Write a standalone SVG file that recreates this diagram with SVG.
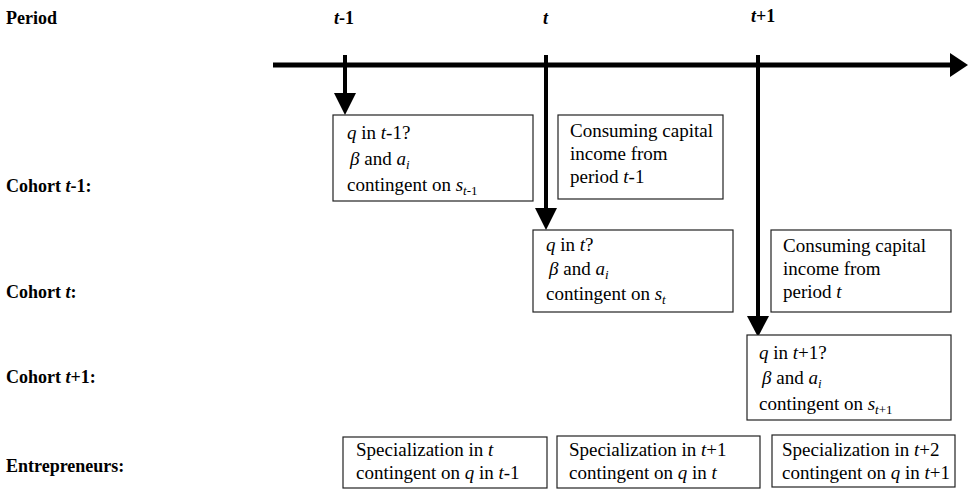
<svg xmlns="http://www.w3.org/2000/svg" width="968" height="497" viewBox="0 0 968 497">
<defs>
<style>
.lbl{font-size:18px;font-weight:bold;fill:#000}
.txt{font-size:19px;fill:#000}
.i{font-style:italic}
.sub{font-size:13px}
.box{fill:#fff;stroke:#222;stroke-width:1.2}
.line{stroke:#000;fill:none}
.head{fill:#000}
</style>
</defs>
<rect width="968" height="497" fill="#fff"/>
<g font-family="'Liberation Serif', 'Times New Roman', Times, 'Nimbus Roman', 'Nimbus Roman No9 L', FreeSerif, 'Noto Serif', 'DejaVu Serif', serif">
<g id="labels">
<text class="lbl" x="6" y="24">Period</text>
<text class="lbl" x="334" y="24"><tspan class="i">t</tspan>-1</text>
<text class="lbl" x="543" y="24"><tspan class="i">t</tspan></text>
<text class="lbl" x="751" y="22"><tspan class="i">t</tspan>+1</text>
<text class="lbl" x="6" y="192">Cohort <tspan class="i">t</tspan>-1:</text>
<text class="lbl" x="6" y="298">Cohort <tspan class="i">t</tspan>:</text>
<text class="lbl" x="6" y="383">Cohort <tspan class="i">t</tspan>+1:</text>
<text class="lbl" x="6" y="472">Entrepreneurs:</text>
</g>
<g id="connectors">
<line class="line" x1="273" y1="65" x2="952" y2="65" stroke-width="5"/>
<polygon class="head" points="950,53 968,65 950,77"/>
<line class="line" x1="345" y1="55" x2="345" y2="96" stroke-width="4"/>
<polygon class="head" points="334,93 356,93 345,115"/>
<line class="line" x1="546" y1="55" x2="546" y2="211" stroke-width="4"/>
<polygon class="head" points="535,208 557,208 546,230"/>
<line class="line" x1="758" y1="55" x2="758" y2="319" stroke-width="4"/>
<polygon class="head" points="747,316 769,316 758,337"/>
</g>
<g id="cohort-t-1-decision">
<rect class="box" x="333" y="115" width="200" height="86"/>
<text class="txt" x="347" y="139"><tspan class="i">q</tspan> in <tspan class="i">t</tspan>-1?</text>
<text class="txt" x="350" y="165"><tspan class="i">β</tspan>  and <tspan class="i">a</tspan><tspan class="sub i" dy="4">i</tspan></text>
<text class="txt" x="347" y="191">contingent on <tspan class="i">s</tspan><tspan class="sub" dy="4"><tspan class="i">t</tspan>-1</tspan></text>
</g>
<g id="cohort-t-1-consume">
<rect class="box" x="558" y="115" width="165" height="84"/>
<text class="txt" x="570" y="137">Consuming capital</text>
<text class="txt" x="570" y="160">income from</text>
<text class="txt" x="570" y="183">period <tspan class="i">t</tspan>-1</text>
</g>
<g id="cohort-t-decision">
<rect class="box" x="533" y="230" width="200" height="82"/>
<text class="txt" x="546" y="251"><tspan class="i">q</tspan> in <tspan class="i">t</tspan>?</text>
<text class="txt" x="549" y="275"><tspan class="i">β</tspan>  and <tspan class="i">a</tspan><tspan class="sub i" dy="4">i</tspan></text>
<text class="txt" x="546" y="300">contingent on <tspan class="i">s</tspan><tspan class="sub i" dy="4">t</tspan></text>
</g>
<g id="cohort-t-consume">
<rect class="box" x="771" y="230" width="180" height="82"/>
<text class="txt" x="783" y="252">Consuming capital</text>
<text class="txt" x="783" y="275">income from</text>
<text class="txt" x="783" y="298">period <tspan class="i">t</tspan></text>
</g>
<g id="cohort-t1-decision">
<rect class="box" x="747" y="335" width="204" height="85"/>
<text class="txt" x="759" y="359"><tspan class="i">q</tspan> in <tspan class="i">t</tspan>+1?</text>
<text class="txt" x="762" y="384"><tspan class="i">β</tspan>  and <tspan class="i">a</tspan><tspan class="sub i" dy="4">i</tspan></text>
<text class="txt" x="759" y="410">contingent on <tspan class="i">s</tspan><tspan class="sub" dy="4"><tspan class="i">t</tspan>+1</tspan></text>
</g>
<g id="entrepreneurs-t">
<rect class="box" x="343" y="437" width="204" height="51"/>
<text class="txt" x="356" y="456">Specialization in <tspan class="i">t</tspan></text>
<text class="txt" x="356" y="479">contingent on <tspan class="i">q</tspan> in <tspan class="i">t</tspan>-1</text>
</g>
<g id="entrepreneurs-t1">
<rect class="box" x="557" y="436" width="203" height="52"/>
<text class="txt" x="569" y="456">Specialization in <tspan class="i">t</tspan>+1</text>
<text class="txt" x="569" y="479">contingent on <tspan class="i">q</tspan> in <tspan class="i">t</tspan></text>
</g>
<g id="entrepreneurs-t2">
<rect class="box" x="772" y="435" width="183" height="52"/>
<text class="txt" x="782" y="456">Specialization in <tspan class="i">t</tspan>+2</text>
<text class="txt" x="782" y="479">contingent on <tspan class="i">q</tspan> in <tspan class="i">t</tspan>+1</text>
</g>
</g>
</svg>
